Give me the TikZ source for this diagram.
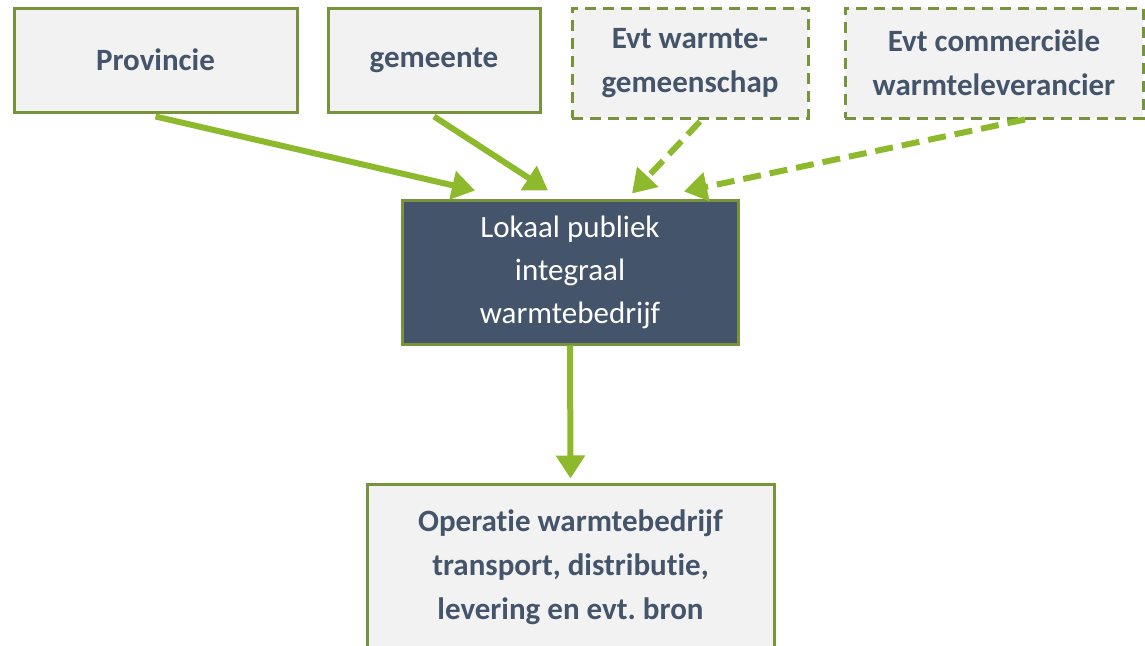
\documentclass[tikz,border=0pt]{standalone}
\usepackage{fontspec}
\setmainfont{Carlito}[Ligatures=NoCommon]
\usetikzlibrary{arrows.meta}
\definecolor{arrgreen}{HTML}{8DBA2C}
\definecolor{boxgreen}{HTML}{77933C}
\definecolor{boxfill}{HTML}{F2F2F2}
\definecolor{slate}{HTML}{44546A}
\tikzset{
  box/.style={draw=boxgreen, line width=3pt, fill=boxfill, text=slate,
    font=\fontsize{31}{44}\selectfont\bfseries, align=center, inner sep=0pt},
  dbox/.style={box, dash pattern=on 11pt off 7pt},
  mainbox/.style={box, fill=slate, text=white, font=\fontsize{31}{43}\selectfont},
  arr/.style={draw=arrgreen, line width=6pt, -{Triangle[width=28pt,length=23pt]}},
  darr/.style={arr, dash pattern=on 18pt off 9pt}
}
\begin{document}
\frenchspacing
\begin{tikzpicture}[x=1pt,y=-1pt]
\useasboundingbox (0,0) rectangle (1145,645);
\node[box, minimum width=283pt, minimum height=104pt] (prov) at (155.5,60) {Provincie};
\node[box, minimum width=212pt, minimum height=104pt] (gem) at (434,60) {gemeente};
\node[dbox, minimum width=236pt, minimum height=110pt] (warm) at (690,63) {Evt warmte-\\gemeenschap};
\node[dbox, minimum width=298pt, minimum height=110pt] (com) at (994,63) {Evt commerciële\\warmteleverancier};
\node[mainbox, minimum width=336pt, minimum height=144pt] (lok) at (570,272) {Lokaal publiek\\integraal\\warmtebedrijf};
\node[box, minimum width=407pt, minimum height=166pt] (bot) at (570.5,567) {Operatie warmtebedrijf\\transport, distributie,\\levering en evt. bron};
\draw[arr] ([yshift=-3pt]prov.south) -- ([xshift=-95pt,yshift=8pt]lok.north);
\draw[arr] ([yshift=-3pt]gem.south) -- ([xshift=-22pt,yshift=8pt]lok.north);
\draw[darr] ([xshift=10pt,yshift=-2pt]warm.south) -- ([xshift=62pt,yshift=5pt]lok.north);
\draw[darr] ([xshift=31pt]com.south) -- ([xshift=114pt,yshift=7pt]lok.north);
\draw[arr] (lok.south) -- ([yshift=4pt]bot.north);
\end{tikzpicture}
\end{document}
